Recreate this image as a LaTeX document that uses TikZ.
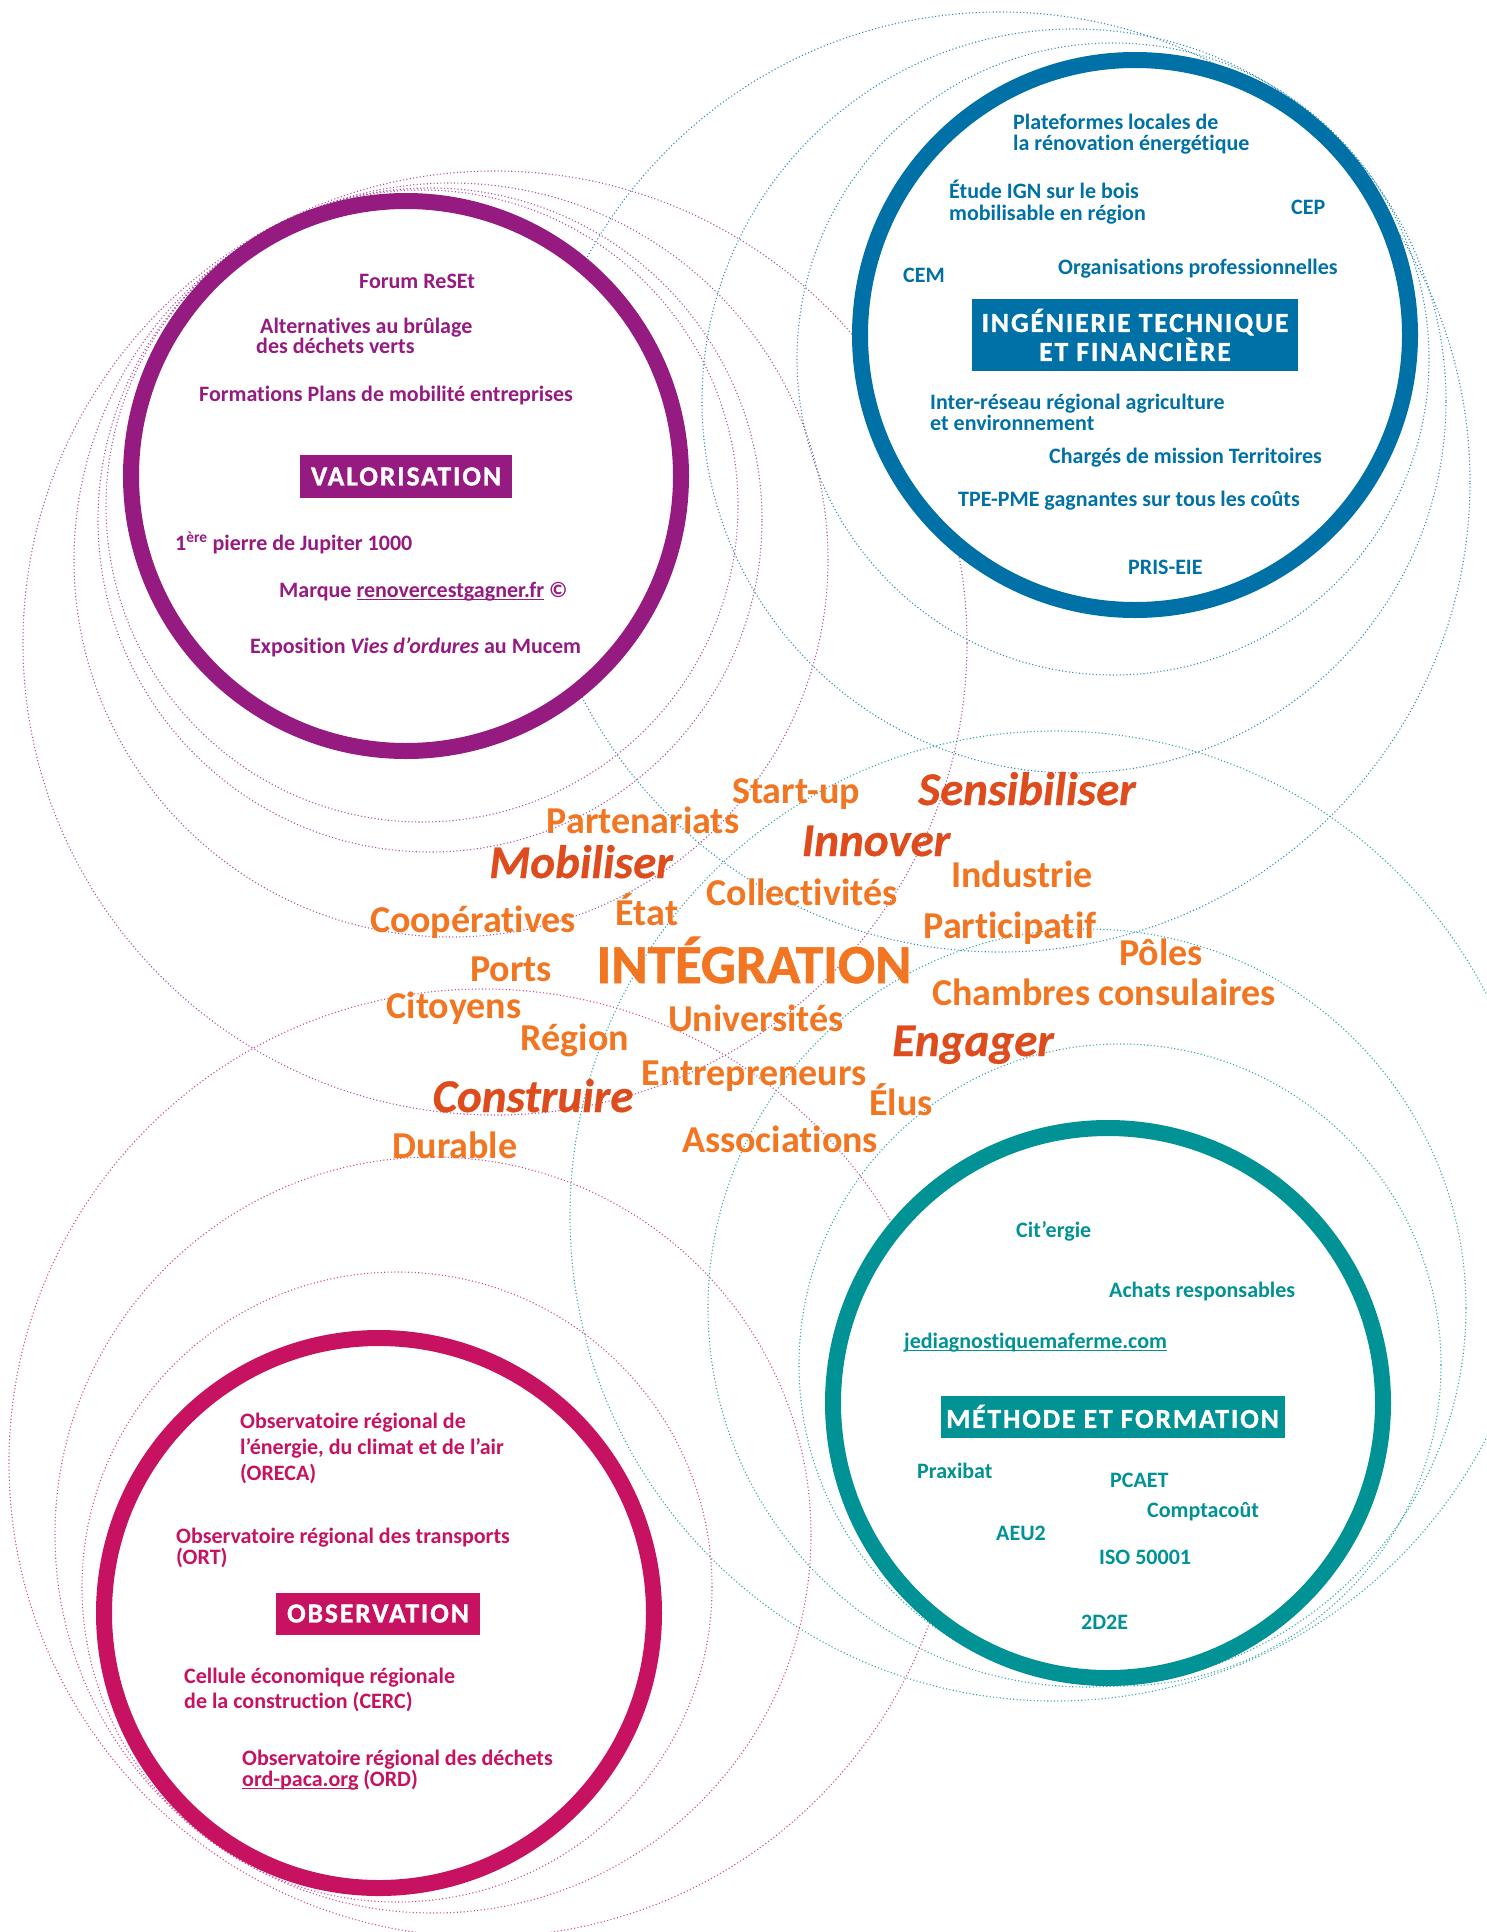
\documentclass[tikz,border=0pt]{standalone}
\usepackage{fontspec}
\setmainfont{Carlito}[Ligatures=NoCommon]
\newfontfamily\boxfont{Carlito}[Ligatures=NoCommon, LetterSpace=7, BoldFeatures={FakeBold=1.2}]
\newfontfamily\verbfont{Carlito}[Ligatures=NoCommon, BoldItalicFeatures={FakeBold=0.6}]
\definecolor{cpurple}{RGB}{149,27,129}
\definecolor{cblue}{RGB}{0,113,167}
\definecolor{cteal}{RGB}{0,146,148}
\definecolor{cmag}{RGB}{198,18,96}
\definecolor{corange}{RGB}{242,118,34}
\definecolor{cdorange}{RGB}{222,76,30}
\newcommand\ulink[1]{\setbox0\hbox{#1}\rlap{\rule[-2.6pt]{\wd0}{1.1pt}}\box0\relax}
\begin{document}
\begin{tikzpicture}[x=1pt,y=-1pt,
  dotc/.style={line width=1.1pt, dash pattern=on 1.1pt off 2.3pt},
  solidc/.style={circle, fill=white, line width=16pt, minimum size=550pt, inner sep=0pt},
  item/.style={inner sep=0pt, anchor=base west, font=\bfseries\fontsize{22}{22}\selectfont},
  lbox/.style={inner sep=0pt, text=white, font=\boxfont\bfseries\fontsize{27.5}{29}\selectfont},
  word/.style={inner sep=0pt, anchor=base, text=corange, font=\bfseries\fontsize{38}{38}\selectfont},
  verb/.style={inner sep=0pt, anchor=base, text=cdorange, font=\verbfont\bfseries\itshape\fontsize{47}{47}\selectfont},
  bigword/.style={inner sep=0pt, anchor=base, text=corange, font=\boxfont\addfontfeatures{LetterSpace=0}\bfseries\fontsize{55}{55}\selectfont}]
\fill[white] (0,0) rectangle (1487,1932);
\useasboundingbox (0,0) rectangle (1487,1932);
% dotted circle families
\begin{scope}[dotc]
\draw[cpurple!75] (422,506) circle[radius=316pt];
\draw[cpurple!75] (430,520) circle[radius=332pt];
\draw[cpurple!75] (451,560) circle[radius=377pt];
\draw[cpurple!75] (495,643) circle[radius=472pt];
\draw[cblue!80] (1113,359) circle[radius=316pt];
\draw[cblue!80] (1074,401) circle[radius=372pt];
\draw[cblue!80] (1000,482) circle[radius=470pt];
\draw[cteal!80] (1120,1365) circle[radius=321pt];
\draw[cteal!80] (1087,1308) circle[radius=379pt];
\draw[cteal!80] (1055,1216) circle[radius=485pt];
\draw[cmag!75] (397,1587) circle[radius=315pt];
\draw[cmag!75] (433,1535) circle[radius=378pt];
\draw[cmag!75] (483,1463) circle[radius=474pt];
\end{scope}
% central words
\node[word] (w1) at (796,803) {Start-up};
\node[verb] (w2) at (1027,805) {Sensibiliser};
\node[word] (w3) at (643,833) {Partenariats};
\node[verb] (w4) at (581,878) {Mobiliser};
\node[verb] (w5) at (876,856) {Innover};
\node[word] (w6) at (1022,887) {Industrie};
\node[word] (w7) at (473,932) {Coopératives};
\node[word] (w8) at (647,925) {État};
\node[word] (w9) at (802,905) {Collectivités};
\node[word] (w10) at (1010,938) {Participatif};
\node[word] (w11) at (1161,965) {Pôles};
\node[word] (w12) at (511,981) {Ports};
\node[bigword] (w13) at (754,983) {INTÉGRATION};
\node[word] (w14) at (1104,1005) {Chambres consulaires};
\node[word] (w15) at (454,1018) {Citoyens};
\node[word] (w16) at (756,1031) {Universités};
\node[word] (w17) at (575,1050) {Région};
\node[verb] (w18) at (973,1056) {Engager};
\node[word] (w19) at (754,1085) {Entrepreneurs};
\node[verb] (w20) at (533,1112) {Construire};
\node[word] (w21) at (901,1115) {Élus};
\node[word] (w22) at (455,1158) {Durable};
\node[word] (w23) at (780,1152) {Associations};
% solid circles
\node[solidc, draw=cpurple] (valo) at (406,476) {};
\node[solidc, draw=cblue] (inge) at (1135,335) {};
\node[solidc, draw=cteal] (meth) at (1108,1403) {};
\node[solidc, draw=cmag] (obse) at (379,1613) {};
% label boxes
\node[lbox, fill=cpurple, minimum width=212pt, minimum height=43pt] (valobox) at (406,476.5) {VALORISATION};
\node[lbox, fill=cblue, minimum width=326pt, minimum height=72pt, align=center] (ingebox) at (1135,335) {INGÉNIERIE TECHNIQUE\\ET FINANCIÈRE};
\node[lbox, fill=cteal, minimum width=344pt, minimum height=42pt] (methbox) at (1112.5,1416.5) {MÉTHODE ET FORMATION};
\node[lbox, fill=cmag, minimum width=204pt, minimum height=42pt] (obsebox) at (378,1613.5) {OBSERVATION};
% valorisation items
\begin{scope}[every node/.append style={text=cpurple}]
\node[item] (v1) at (359,288) {Forum ReSEt};
\node[item] (v2) at (260,333) {Alternatives au brûlage};
\node[item] (v3) at (256,353) {des déchets verts};
\node[item] (v4) at (199,401) {Formations Plans de mobilité entreprises};
\node[item] (v5) at (175,550) {1\textsuperscript{ère} pierre de Jupiter 1000};
\node[item] (v6) at (279,597) {Marque \ulink{renovercestgagner.fr} ©};
\node[item] (v7) at (250,653) {Exposition \textit{Vies d’ordures} au Mucem};
\end{scope}
% ingenierie items
\begin{scope}[every node/.append style={text=cblue}]
\node[item] (i1) at (1013,129) {Plateformes locales de};
\node[item] (i2) at (1013,150) {la rénovation énergétique};
\node[item] (i3) at (949,198) {Étude IGN sur le bois};
\node[item] (i4) at (949,220) {mobilisable en région};
\node[item] (i5) at (1291,214) {CEP};
\node[item] (i6) at (903,282) {CEM};
\node[item] (i7) at (1058,274) {Organisations professionnelles};
\node[item] (i8) at (930,409) {Inter-réseau régional agriculture};
\node[item] (i9) at (930,430) {et environnement};
\node[item] (i10) at (1049,463) {Chargés de mission Territoires};
\node[item] (i11) at (958,506) {TPE-PME gagnantes sur tous les coûts};
\node[item] (i12) at (1128,574) {PRIS-EIE};
\end{scope}
% observation items
\begin{scope}[every node/.append style={text=cmag}]
\node[item] (o1) at (240,1428) {Observatoire régional de};
\node[item] (o2) at (240,1454) {l’énergie, du climat et de l’air};
\node[item] (o3) at (240,1480) {(ORECA)};
\node[item] (o4) at (176,1543) {Observatoire régional des transports};
\node[item] (o5) at (176,1564) {(ORT)};
\node[item] (o6) at (184,1683) {Cellule économique régionale};
\node[item] (o7) at (184,1708) {de la construction (CERC)};
\node[item] (o8) at (242,1765) {Observatoire régional des déchets};
\node[item] (o9) at (242,1786) {\ulink{ord-paca.org} (ORD)};
\end{scope}
% methode items
\begin{scope}[every node/.append style={text=cteal}]
\node[item] (m1) at (1016,1237) {Cit’ergie};
\node[item] (m2) at (1109,1297) {Achats responsables};
\node[item] (m3) at (904,1348) {\ulink{jediagnostiquemaferme.com}};
\node[item] (m4) at (917,1478) {Praxibat};
\node[item] (m5) at (1110,1487) {PCAET};
\node[item] (m6) at (1147,1517) {Comptacoût};
\node[item] (m7) at (996,1540) {AEU2};
\node[item] (m8) at (1099,1564) {ISO 50001};
\node[item] (m9) at (1081,1629) {2D2E};
\end{scope}
\end{tikzpicture}
\end{document}
